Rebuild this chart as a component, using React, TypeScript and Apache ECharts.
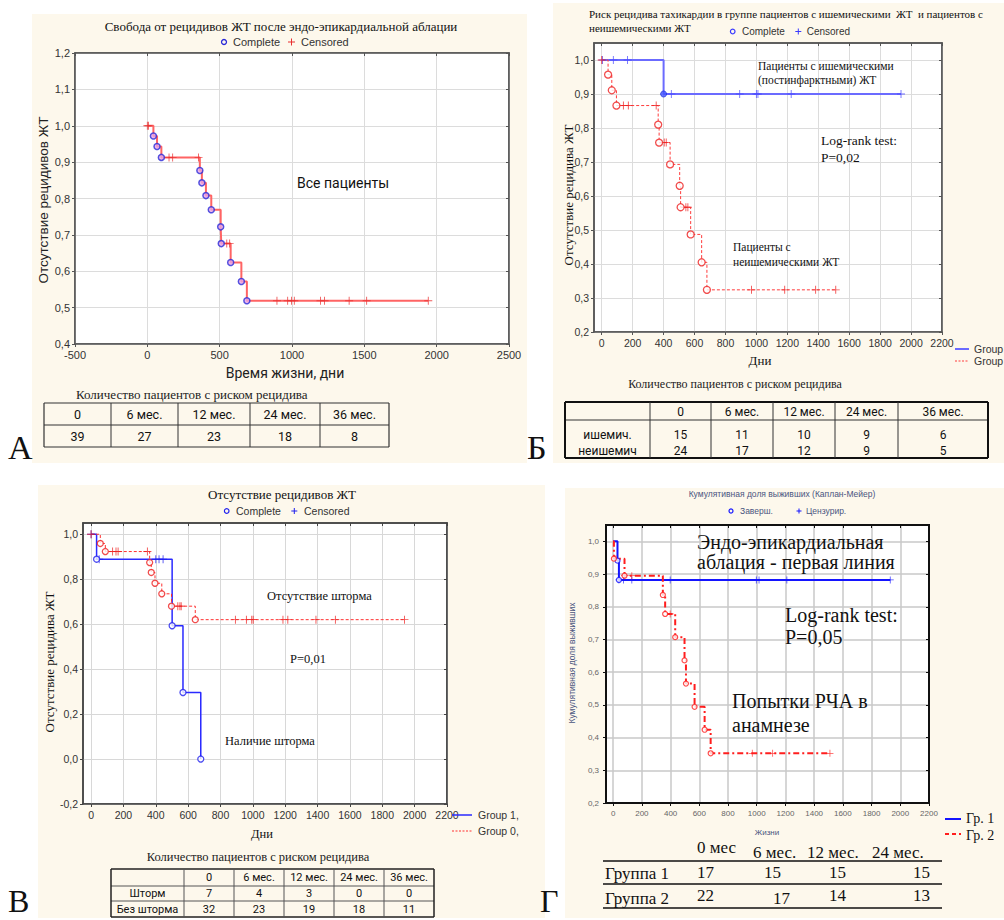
import React, { useEffect, useRef } from "react";
import * as echarts from "echarts";

const SERIF = '"Liberation Serif", "Times New Roman", serif';
const SANS = '"Liberation Sans", Arial, sans-serif';
const CAL = 'Roboto, "Open Sans", sans-serif';

// ---------- Panel A ----------
const aEventDays = [42, 67, 97, 363, 377, 405, 442, 507, 511, 576, 650, 688];
const aEventSurv = [0.972, 0.943, 0.913, 0.877, 0.843, 0.808, 0.769, 0.722, 0.676, 0.624, 0.572, 0.519];
const aEndDay = 1942;
const aCensorDays = [0, 8, 150, 175, 354, 549, 569, 896, 970, 997, 1016, 1197, 1225, 1395, 1516, 1942];
const aCensorSurv = [1, 1, 0.913, 0.913, 0.913, 0.676, 0.676, 0.519, 0.519, 0.519, 0.519, 0.519, 0.519, 0.519, 0.519, 0.519];
const aXTicks = [-500, 0, 500, 1000, 1500, 2000, 2500];
const aYTicks = [0.4, 0.5, 0.6, 0.7, 0.8, 0.9, 1.0, 1.1, 1.2];
const aTableHeads = ["0", "6 мес.", "12 мес.", "24 мес.", "36 мес."];
const aAtRisk = [39, 27, 23, 18, 8];

// ---------- Panel Б ----------
const bIschEventDays = [400];
const bIschEventSurv = [0.9];
const bIschEndDay = 1935;
const bIschCensorDays = [5, 75, 167, 450, 892, 1000, 1010, 1225, 1935];
const bIschCensorSurv = [1, 1, 1, 0.9, 0.9, 0.9, 0.9, 0.9, 0.9];
const bNonEventDays = [41, 65, 95, 365, 371, 442, 504, 510, 575, 646, 680];
const bNonEventSurv = [0.957, 0.911, 0.866, 0.81, 0.757, 0.693, 0.63, 0.567, 0.487, 0.405, 0.324];
const bNonEndDay = 1513;
const bNonCensorDays = [0, 140, 172, 352, 404, 417, 544, 557, 968, 1183, 1383, 1513];
const bNonCensorSurv = [1, 0.866, 0.866, 0.866, 0.757, 0.757, 0.567, 0.567, 0.324, 0.324, 0.324, 0.324];
const dayTicks = [0, 200, 400, 600, 800, 1000, 1200, 1400, 1600, 1800, 2000, 2200];
const bYTicks = [0.2, 0.3, 0.4, 0.5, 0.6, 0.7, 0.8, 0.9, 1.0];
const bTableHeads = ["0", "6 мес.", "12 мес.", "24 мес.", "36 мес."];
const bRowLabels = ["ишемич.", "неишемич"];
const bIschAtRisk = [15, 11, 10, 9, 6];
const bNonAtRisk = [24, 17, 12, 9, 5];

// ---------- Panel В ----------
const vStormEventDays = [34, 501, 568, 678];
const vStormEventSurv = [0.889, 0.593, 0.296, 0.0];
const vStormEndDay = 678;
const vStormCensorDays = [0, 50, 400, 420, 445];
const vStormCensorSurv = [1, 0.889, 0.889, 0.889, 0.889];
const vNoEventDays = [57, 88, 362, 372, 395, 437, 497, 644];
const vNoEventSurv = [0.959, 0.923, 0.874, 0.83, 0.782, 0.735, 0.68, 0.62];
const vNoEndDay = 1937;
const vNoCensorDays = [0, 133, 154, 167, 348, 536, 549, 557, 892, 960, 993, 1002, 1186, 1216, 1390, 1510, 1937];
const vNoCensorSurv = [1, 0.923, 0.923, 0.923, 0.923, 0.68, 0.68, 0.68, 0.62, 0.62, 0.62, 0.62, 0.62, 0.62, 0.62, 0.62, 0.62];
const vYTicks = [-0.2, 0, 0.2, 0.4, 0.6, 0.8, 1.0];
const vTableHeads = ["0", "6 мес.", "12 мес.", "24 мес.", "36 мес."];
const vRowLabels = ["Шторм", "Без шторма"];
const vStormAtRisk = [7, 4, 3, 0, 0];
const vNoAtRisk = [32, 23, 19, 18, 11];

// ---------- Panel Г ----------
const gG1EventDays = [30, 40];
const gG1EventSurv = [0.941, 0.882];
const gG1EndDay = 1930;
const gG1CensorDays = [40, 72, 130, 397, 997, 1016, 1210, 1930];
const gG1CensorSurv = [0.882, 0.882, 0.882, 0.882, 0.882, 0.882, 0.882, 0.882];
const gG2EventDays = [5, 79, 346, 362, 432, 497, 507, 567, 637, 679];
const gG2EventSurv = [0.947, 0.895, 0.836, 0.778, 0.707, 0.636, 0.565, 0.494, 0.424, 0.352];
const gG2EndDay = 1510;
const gG2CensorDays = [19, 79, 130, 397, 969, 1111, 1510];
const gG2CensorSurv = [0.947, 0.895, 0.895, 0.778, 0.352, 0.352, 0.352];
const gYTicks = [0.2, 0.3, 0.4, 0.5, 0.6, 0.7, 0.8, 0.9, 1.0];
const gTableHeads = ["0 мес", "6 мес.", "12 мес.", "24 мес."];
const gRowLabels = ["Группа 1", "Группа 2"];
const gG1AtRisk = [17, 15, 15, 15];
const gG2AtRisk = [22, 17, 14, 13];

const PLUS = "path://M4,0h1v9h-1zM0,4h9v1h-9z";
const CREAM = "#fdf8ec";

const zip = (xs: number[], ys: number[]) => xs.map((x, i) => [x, ys[i]]);
const km = (days: number[], surv: number[], end: number) => {
  const pts = [[0, 1]];
  days.forEach((d, i) => pts.push([d, surv[i]]));
  if (end > days[days.length - 1]) pts.push([end, surv[surv.length - 1]]);
  return pts;
};
const dec = (v: number) => v.toFixed(1).replace(".", ",");

type St = {
  frame: string; frameW: number; grid: string; gridW: number;
  lc: string; ls: number; lf: string; xm: number; ym: number;
};

function axesFor(gi: number, xr: number[], xt: number[], yr: number[], yt: number[], st: St, xfmt: (v: number) => string) {
  const xb = {
    type: "value", gridIndex: gi, min: xr[0], max: xr[1], position: "bottom",
    axisLine: { show: true, onZero: false, lineStyle: { color: st.frame, width: st.frameW } },
    axisTick: { show: true, inside: false, length: 3, customValues: xt, lineStyle: { color: st.frame } },
    axisLabel: { customValues: xt, formatter: xfmt, color: st.lc, fontSize: st.ls, fontFamily: st.lf, margin: st.xm },
    splitLine: { show: true, lineStyle: { color: st.grid, width: st.gridW } },
  };
  const xtop = {
    type: "value", gridIndex: gi, min: xr[0], max: xr[1], position: "top",
    axisLine: { show: true, onZero: false, lineStyle: { color: st.frame, width: st.frameW } },
    axisTick: { show: true, inside: true, length: 3, customValues: xt, lineStyle: { color: st.frame } },
    axisLabel: { show: false }, splitLine: { show: false },
  };
  const yl = {
    type: "value", gridIndex: gi, min: yr[0], max: yr[1], position: "left",
    axisLine: { show: true, onZero: false, lineStyle: { color: st.frame, width: st.frameW } },
    axisTick: { show: true, inside: false, length: 3, customValues: yt, lineStyle: { color: st.frame } },
    axisLabel: { customValues: yt, formatter: dec, color: st.lc, fontSize: st.ls, fontFamily: st.lf, margin: st.ym },
    splitLine: { show: true, lineStyle: { color: st.grid, width: st.gridW } },
  };
  const yr2 = {
    type: "value", gridIndex: gi, min: yr[0], max: yr[1], position: "right",
    axisLine: { show: true, onZero: false, lineStyle: { color: st.frame, width: st.frameW } },
    axisTick: { show: true, inside: true, length: 3, customValues: yt, lineStyle: { color: st.frame } },
    axisLabel: { show: false }, splitLine: { show: false },
  };
  return { xb, xtop, yl, yr2 };
}

type CS = {
  line: string; lw: number; dash?: number[]; evSize: number; evFill: string; evBorder: string; evBW: number;
  cColor: string; cSize: number;
};
function kmSeries(gi: number, curve: number[][], events: number[][], cens: number[][], s: CS) {
  return [
    {
      type: "line", xAxisIndex: gi, yAxisIndex: gi, data: curve, step: "end", showSymbol: false, symbol: "none",
      silent: true, z: 3,
      lineStyle: { color: s.line, width: s.lw, type: s.dash ? s.dash : "solid" },
    },
    {
      type: "scatter", xAxisIndex: gi, yAxisIndex: gi, data: cens, symbol: PLUS, symbolSize: s.cSize,
      silent: true, z: 4, itemStyle: { color: s.cColor },
    },
    {
      type: "scatter", xAxisIndex: gi, yAxisIndex: gi, data: events, symbol: "circle", symbolSize: s.evSize,
      silent: true, z: 5, itemStyle: { color: s.evFill, borderColor: s.evBorder, borderWidth: s.evBW },
    },
  ];
}

// ---------- graphic helpers ----------
const T = (text: string, x: number, y: number, size: number, family: string, o: any = {}) => ({
  type: "text", x, y, z: 100, rotation: o.rot || 0,
  style: {
    text, fontSize: size, fontFamily: family, fill: o.color || "#111", fontWeight: o.weight || "normal",
    textAlign: o.align || "left", align: o.align || "left", textVerticalAlign: "middle", verticalAlign: "middle",
  },
});
const L = (x1: number, y1: number, x2: number, y2: number, color: string, w: number, dash?: number[]) => ({
  type: "line", z: 60, shape: { x1, y1, x2, y2 }, style: { stroke: color, lineWidth: w, lineDash: dash || null },
});
const R = (x: number, y: number, w: number, h: number, fill: string) => ({
  type: "rect", z: -10, shape: { x, y, width: w, height: h }, style: { fill },
});
const C = (cx: number, cy: number, r: number, stroke: string, fill = "none", lw = 1) => ({
  type: "circle", z: 60, shape: { cx, cy, r }, style: { stroke, fill, lineWidth: lw },
});
const P = (cx: number, cy: number, h: number, color: string) => [
  L(cx - h, cy, cx + h, cy, color, 1), L(cx, cy - h, cx, cy + h, color, 1),
];
function tableLines(xs: number[], ys: number[], inner: string, iw: number, outer: string, ow: number, skipRows: number[] = []) {
  const out: any[] = [];
  ys.forEach((y, i) => {
    if (skipRows.includes(i)) return;
    const edge = i === 0 || i === ys.length - 1;
    out.push(L(xs[0], y, xs[xs.length - 1], y, edge ? outer : inner, edge ? ow : iw));
  });
  xs.forEach((x, i) => {
    const edge = i === 0 || i === xs.length - 1;
    out.push(L(x, ys[0], x, ys[ys.length - 1], edge ? outer : inner, edge ? ow : iw));
  });
  return out;
}

function buildOption() {
  const stA: St = { frame: "#555", frameW: 1.5, grid: "#dcdcdc", gridW: 1, lc: "#333", ls: 11, lf: SANS, xm: 5, ym: 5 };
  const stB: St = { frame: "#555", frameW: 1.5, grid: "#dcdcdc", gridW: 1, lc: "#333", ls: 10.5, lf: SANS, xm: 5, ym: 5 };
  const stV: St = { frame: "#444", frameW: 1.5, grid: "#d8d8d8", gridW: 1, lc: "#333", ls: 10.5, lf: SANS, xm: 5, ym: 5 };
  const stG: St = { frame: "#111", frameW: 2, grid: "#c8c8c8", gridW: 1.5, lc: "#666", ls: 8, lf: SANS, xm: 6, ym: 7 };

  const A = axesFor(0, [-500, 2500], aXTicks, [0.4, 1.2], aYTicks, stA, (v) => String(v));
  const B = axesFor(1, [-50, 2200], dayTicks, [0.2, 1.05], bYTicks, stB, (v) => String(v));
  const V = axesFor(2, [-50, 2200], dayTicks, [-0.2, 1.05], vYTicks, stV, (v) => String(v));
  const G = axesFor(3, [-50, 2200], dayTicks, [0.2, 1.05], gYTicks, stG, (v) => String(v));

  const grids = [
    { left: 75, top: 53, width: 434, height: 291, borderColor: "#555", borderWidth: 1.5 },
    { left: 594, top: 43, width: 348, height: 289, borderColor: "#555", borderWidth: 1.5 },
    { left: 83, top: 523, width: 364, height: 281, borderColor: "#444", borderWidth: 1.5 },
    { left: 606, top: 525, width: 323, height: 278, borderColor: "#111", borderWidth: 2 },
  ].map((g) => ({ ...g, show: true, backgroundColor: "#ffffff", containLabel: false }));

  const series = [
    ...kmSeries(0, km(aEventDays, aEventSurv, aEndDay), zip(aEventDays, aEventSurv), zip(aCensorDays, aCensorSurv),
      { line: "#ff6464", lw: 2, evSize: 6, evFill: "#e9a6e6", evBorder: "#2a2ad8", evBW: 1.5, cColor: "#e83030", cSize: 8 }),
    ...kmSeries(1, km(bIschEventDays, bIschEventSurv, bIschEndDay), zip(bIschEventDays, bIschEventSurv), zip(bIschCensorDays, bIschCensorSurv),
      { line: "#6b6bff", lw: 2, evSize: 6, evFill: "#4455ff", evBorder: "#2233dd", evBW: 1, cColor: "#4a4aff", cSize: 8 }),
    ...kmSeries(1, km(bNonEventDays, bNonEventSurv, bNonEndDay), zip(bNonEventDays, bNonEventSurv), zip(bNonCensorDays, bNonCensorSurv),
      { line: "#ff3c3c", lw: 1, dash: [3, 2], evSize: 7, evFill: "#ffffff", evBorder: "#ee2020", evBW: 1.3, cColor: "#ee2020", cSize: 8 }),
    ...kmSeries(2, km(vStormEventDays, vStormEventSurv, vStormEndDay), zip(vStormEventDays, vStormEventSurv), zip(vStormCensorDays, vStormCensorSurv),
      { line: "#2a2aff", lw: 1.5, evSize: 6, evFill: "#ffffff", evBorder: "#2020ee", evBW: 1.3, cColor: "#2020ee", cSize: 8 }),
    ...kmSeries(2, km(vNoEventDays, vNoEventSurv, vNoEndDay), zip(vNoEventDays, vNoEventSurv), zip(vNoCensorDays, vNoCensorSurv),
      { line: "#ff3030", lw: 1, dash: [3, 2], evSize: 6, evFill: "#ffffff", evBorder: "#ee2020", evBW: 1.3, cColor: "#ee2020", cSize: 8 }),
    ...kmSeries(3, km(gG1EventDays, gG1EventSurv, gG1EndDay), zip(gG1EventDays, gG1EventSurv), zip(gG1CensorDays, gG1CensorSurv),
      { line: "#1414ff", lw: 2, evSize: 5, evFill: "#ffffff", evBorder: "#1414ff", evBW: 1.2, cColor: "#1414ff", cSize: 7 }),
    ...kmSeries(3, km(gG2EventDays, gG2EventSurv, gG2EndDay), zip(gG2EventDays, gG2EventSurv), zip(gG2CensorDays, gG2CensorSurv),
      { line: "#ff1e1e", lw: 2, dash: [6, 3, 2, 3], evSize: 5, evFill: "#ffffff", evBorder: "#ff1e1e", evBW: 1.2, cColor: "#ff1e1e", cSize: 7 }),
  ];

  const g: any[] = [];
  // cream backgrounds
  g.push(R(32, 14, 495, 449, CREAM), R(553, 3, 451, 460, CREAM), R(38, 485, 507, 433, CREAM), R(565, 488, 439, 430, CREAM));

  // ---- A ----
  g.push(T("Свобода от рецидивов ЖТ после эндо-эпикардиальной аблации", 281, 26, 13, SERIF, { align: "center" }));
  g.push(C(224, 42, 2.5, "#2a2ad8", "none", 1.3), T("Complete", 233, 42, 11, SANS, { color: "#333" }));
  g.push(...P(291.5, 42, 3.5, "#e83030"), T("Censored", 301, 42, 11, SANS, { color: "#333" }));
  g.push(T("Отсутствие рецидивов ЖТ", 43, 200, 13.5, SANS, { align: "center", rot: Math.PI / 2, color: "#222" }));
  g.push(T("Время жизни, дни", 285, 373, 14, CAL, { align: "center", color: "#222" }));
  g.push(T("Все пациенты", 297, 183, 14, CAL, { color: "#111" }));
  g.push(T("Количество пациентов с риском рецидива", 76, 394, 13, SERIF, { color: "#222" }));
  const aXs = [44, 111, 178, 250, 320, 389];
  g.push(...tableLines(aXs, [403, 425, 447], "#333", 1, "#333", 1.2));
  aTableHeads.forEach((h, i) => g.push(T(h, (aXs[i] + aXs[i + 1]) / 2, 414.5, 12.5, CAL, { align: "center" })));
  aAtRisk.forEach((v, i) => g.push(T(String(v), (aXs[i] + aXs[i + 1]) / 2, 436.5, 12.5, CAL, { align: "center" })));
  g.push(T("А", 8, 447, 34, SERIF));

  // ---- Б ----
  g.push(T("Риск рецидива тахикардии в группе пациентов с ишемическими  ЖТ  и пациентов с", 589, 14, 11, SERIF));
  g.push(T("неишемическими ЖТ", 589, 28, 11, SERIF));
  g.push(C(732.7, 31.5, 2.3, "#3a3aff", "none", 1.2), T("Complete", 742, 31.5, 10, SANS, { color: "#333" }));
  g.push(...P(798.3, 31.5, 3, "#3a3aff"), T("Censored", 806.7, 31.5, 10, SANS, { color: "#333" }));
  g.push(T("Пациенты с ишемическими", 758, 66, 11.5, SERIF));
  g.push(T("(постинфарктными) ЖТ", 758, 80, 11.5, SERIF));
  g.push(T("Log-rank test:", 821, 140, 13.5, SERIF));
  g.push(T("P=0,02", 821, 157, 13.5, SERIF));
  g.push(T("Пациенты с", 733, 247, 11.5, SERIF));
  g.push(T("неишемическими ЖТ", 733, 262, 11.5, SERIF));
  g.push(T("Отсутствие рецидива ЖТ", 568, 195, 13, SERIF, { align: "center", rot: Math.PI / 2 }));
  g.push(T("Дни", 760, 360, 13, SERIF, { align: "center" }));
  g.push(L(955, 349, 969, 349, "#6b6bff", 2), T("Group", 974, 349, 10.5, SANS, { color: "#333" }));
  g.push(L(955, 361, 969, 361, "#ff3c3c", 1, [2, 1.5]), T("Group", 974, 361, 10.5, SANS, { color: "#333" }));
  g.push(T("Количество пациентов с риском рецидива", 735, 384, 12, SERIF, { align: "center", color: "#222" }));
  const bXs = [565, 650, 711, 773, 835, 898, 988];
  g.push(...tableLines(bXs, [402, 420, 443, 458], "#333", 1, "#111", 2, [2]));
  bTableHeads.forEach((h, i) => g.push(T(h, (bXs[i + 1] + bXs[i + 2]) / 2, 411.5, 12, CAL, { align: "center" })));
  bRowLabels.forEach((h, r) => g.push(T(h, (bXs[0] + bXs[1]) / 2, r === 0 ? 434.5 : 451, 12, CAL, { align: "center" })));
  bIschAtRisk.forEach((v, i) => g.push(T(String(v), (bXs[i + 1] + bXs[i + 2]) / 2, 434.5, 12, CAL, { align: "center" })));
  bNonAtRisk.forEach((v, i) => g.push(T(String(v), (bXs[i + 1] + bXs[i + 2]) / 2, 451, 12, CAL, { align: "center" })));
  g.push(T("Б", 527, 447, 34, SERIF));

  // ---- В ----
  g.push(T("Отсутствие рецидивов ЖТ", 282, 494, 13, SERIF, { align: "center" }));
  g.push(C(226.7, 511, 2.3, "#2020ee", "none", 1.2), T("Complete", 236, 511, 10.5, SANS, { color: "#333" }));
  g.push(...P(294.3, 511, 3, "#2020ee"), T("Censored", 304, 511, 10.5, SANS, { color: "#333" }));
  g.push(T("Отсутствие рецидива ЖТ", 49, 662, 13, SERIF, { align: "center", rot: Math.PI / 2 }));
  g.push(T("Отсутствие шторма", 267, 596, 12.5, SERIF));
  g.push(T("P=0,01", 290, 659, 12.5, SERIF));
  g.push(T("Наличие шторма", 225, 741, 12.5, SERIF));
  g.push(T("Дни", 262, 834, 12.5, SERIF, { align: "center" }));
  g.push(L(452, 815, 472, 815, "#2a2aff", 1.5), T("Group 1,", 478, 815, 10.5, SANS, { color: "#333" }));
  g.push(L(452, 831, 472, 831, "#ff3030", 1, [2, 1.5]), T("Group 0,", 478, 831, 10.5, SANS, { color: "#333" }));
  g.push(T("Количество пациентов с риском рецидива", 258, 857, 12.5, SERIF, { align: "center", color: "#222" }));
  const vXs = [111, 184, 234, 284, 334, 384, 434];
  g.push(...tableLines(vXs, [869, 886, 901, 917], "#555", 1, "#222", 1.5));
  vTableHeads.forEach((h, i) => g.push(T(h, (vXs[i + 1] + vXs[i + 2]) / 2, 877.5, 11, CAL, { align: "center" })));
  vRowLabels.forEach((h, r) => g.push(T(h, (vXs[0] + vXs[1]) / 2, r === 0 ? 893.5 : 909, 11, CAL, { align: "center" })));
  vStormAtRisk.forEach((v, i) => g.push(T(String(v), (vXs[i + 1] + vXs[i + 2]) / 2, 893.5, 11, CAL, { align: "center" })));
  vNoAtRisk.forEach((v, i) => g.push(T(String(v), (vXs[i + 1] + vXs[i + 2]) / 2, 909, 11, CAL, { align: "center" })));
  g.push(T("В", 8, 901, 32, SERIF));

  // ---- Г ----
  g.push(T("Кумулятивная доля выживших (Каплан-Мейер)", 782, 494, 8.5, SANS, { align: "center", color: "#4a5580" }));
  g.push(C(731, 511, 2, "#1414ff", "none", 1.2), T("Заверш.", 740, 511, 8.5, SANS, { color: "#4a5580" }));
  g.push(...P(799, 511, 2.5, "#1414ff"), T("Цензурир.", 806, 511, 8.5, SANS, { color: "#4a5580" }));
  g.push(T("Эндо-эпикардиальная", 697, 542, 20, SERIF));
  g.push(T("аблация - первая линия", 697, 562, 20, SERIF));
  g.push(T("Log-rank test:", 785, 615, 20, SERIF));
  g.push(T("P=0,05", 785, 637, 20, SERIF));
  g.push(T("Попытки РЧА в", 732, 701, 20, SERIF));
  g.push(T("анамнезе", 732, 725, 20, SERIF));
  g.push(T("Кумулятивная доля выживших", 572, 663, 8.5, SANS, { align: "center", rot: Math.PI / 2, color: "#4a5580" }));
  g.push(T("Жизни", 767, 832, 8, SANS, { align: "center", color: "#4a5580" }));
  g.push(L(945, 819, 961, 819, "#1414ff", 2), T("Гр. 1", 966, 818, 14, SERIF));
  g.push(L(945, 834, 961, 834, "#ff1e1e", 2, [4, 3]), T("Гр. 2", 966, 835, 14, SERIF));
  const gHeadX = [697, 753, 807, 872];
  const gHeadY = [847, 852, 852, 852];
  gTableHeads.forEach((h, i) => g.push(T(h, gHeadX[i], gHeadY[i], 17, SERIF)));
  g.push(L(603, 861, 942, 861, "#111", 1.5), L(603, 884, 942, 884, "#111", 1.5), L(603, 908, 942, 908, "#111", 1.5));
  const gValX1 = [697, 764, 829, 913];
  const gValX2 = [697, 773, 829, 913];
  g.push(T(gRowLabels[0], 605, 873, 17, SERIF), T(gRowLabels[1], 605, 898, 17, SERIF));
  gG1AtRisk.forEach((v, i) => g.push(T(String(v), gValX1[i], 872, 17, SERIF)));
  gG2AtRisk.forEach((v, i) => g.push(T(String(v), gValX2[i], i === 1 ? 898 : 895.5, 17, SERIF)));
  g.push(T("Г", 540, 901, 32, SERIF));

  return {
    animation: false,
    backgroundColor: "#ffffff",
    grid: grids,
    xAxis: [A.xb, B.xb, V.xb, G.xb, A.xtop, B.xtop, V.xtop, G.xtop],
    yAxis: [A.yl, B.yl, V.yl, G.yl, A.yr2, B.yr2, V.yr2, G.yr2],
    series,
    graphic: { elements: g },
  };
}

export default function App() {
  const ref = useRef<HTMLDivElement>(null);
  useEffect(() => {
    if (!ref.current) return;
    const chart = echarts.init(ref.current, null, { renderer: "svg" });
    chart.setOption(buildOption() as any);
    return () => chart.dispose();
  }, []);
  return (
    <div
      ref={ref}
      style={{ position: "absolute", left: 0, top: 0, width: 1004, height: 920, background: "#fff" }}
    />
  );
}
